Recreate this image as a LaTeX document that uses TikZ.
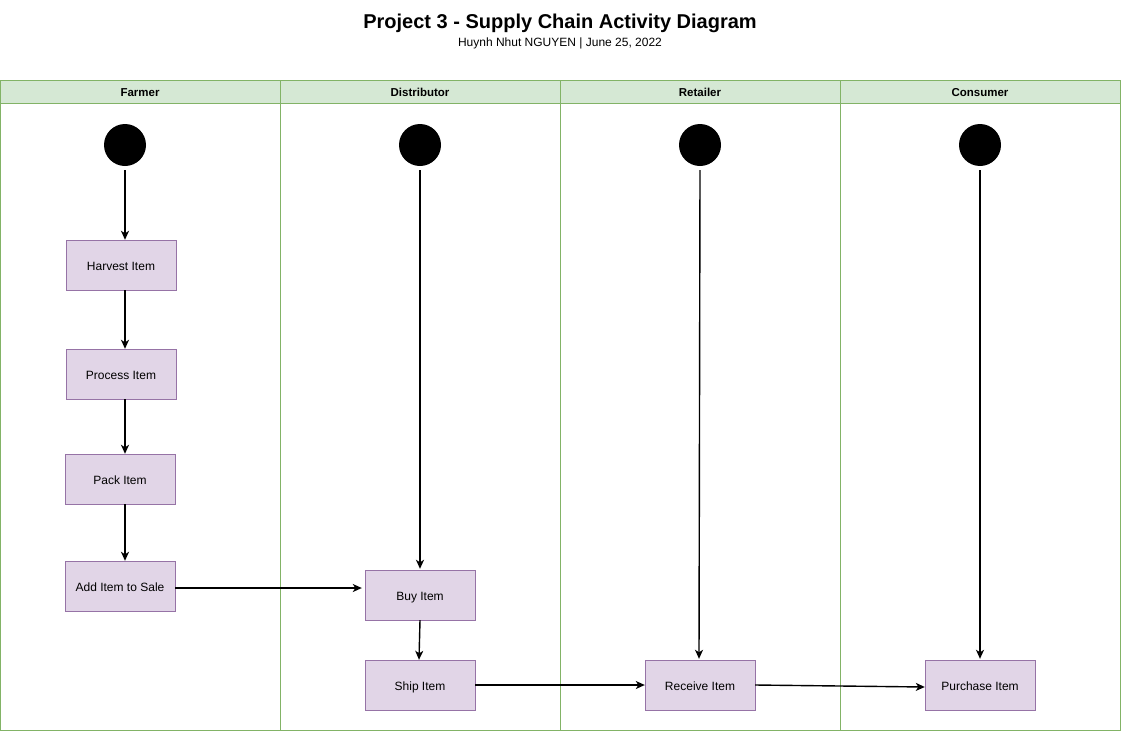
\documentclass[tikz,border=0pt]{standalone}
\usepackage{fontspec}
\setmainfont{Liberation Sans}
\usetikzlibrary{arrows.meta}
\definecolor{boxfill}{HTML}{E1D5E7}
\definecolor{boxline}{HTML}{9673A6}
\definecolor{headfill}{HTML}{D5E8D4}
\definecolor{headline}{HTML}{82B366}
\begin{document}
\begin{tikzpicture}[x=1pt,y=-1pt,
  act/.style={draw=boxline,fill=boxfill,minimum width=110pt,minimum height=50pt,inner sep=0pt,font=\fontsize{12}{14}\selectfont,text height=11.5pt,text depth=0pt},
  startdot/.style={circle,fill=black,minimum size=42pt,inner sep=0pt},
  flow/.style={-{Stealth[length=9pt,width=8pt,inset=2.5pt]},line width=1.4pt},
  lane/.style={draw=headline,line width=0.8pt},
  head/.style={font=\bfseries\fontsize{11.5}{13}\selectfont,text height=10pt,text depth=0pt}]
\useasboundingbox (0,0) rectangle (1121,731);
% title
\node[font=\bfseries\fontsize{20}{24}\selectfont] (title) at (560,23.5) {Project 3 - Supply Chain Activity Diagram};
\node[font=\fontsize{12}{14}\selectfont] (subtitle) at (560,43) {Huynh Nhut NGUYEN | June 25, 2022};
% pool
\fill[headfill] (0.5,80.5) rectangle (1120,103);
\draw[lane] (0.5,80.5) rectangle (1120,730);
\draw[lane] (0.5,103) -- (1120,103);
\foreach \x in {280,560,840} \draw[lane] (\x,80.5) -- (\x,730);
\node[head] (h1) at (140,91.5) {Farmer};
\node[head] (h2) at (420,91.5) {Distributor};
\node[head] (h3) at (700,91.5) {Retailer};
\node[head] (h4) at (980,91.5) {Consumer};
% start nodes
\node[startdot] (s1) at (125,145) {};
\node[startdot] (s2) at (420,145) {};
\node[startdot] (s3) at (700,145) {};
\node[startdot] (s4) at (980,145) {};
% activities
\node[act] (harvest) at (121,265) {Harvest Item};
\node[act] (process) at (121,374) {Process Item};
\node[act] (pack) at (120,479) {Pack Item};
\node[act] (sale) at (120,586) {Add Item to Sale};
\node[act] (buy) at (420,595) {Buy Item};
\node[act] (ship) at (420,685) {Ship Item};
\node[act] (receive) at (700,685) {Receive Item};
\node[act] (purchase) at (980,685) {Purchase Item};
% flows
\draw[flow] ([yshift=-4pt]s1.south) -- (harvest.north -| s1.south);
\draw[flow] (harvest.south -| s1.south) -- (process.north -| s1.south);
\draw[flow] (process.south -| s1.south) -- (pack.north -| s1.south);
\draw[flow] (pack.south -| s1.south) -- (sale.north -| s1.south);
\draw[flow] ([yshift=-2pt]sale.east) -- ([xshift=-3pt,yshift=7pt]buy.west);
\draw[flow] ([yshift=-4pt]s2.south) -- ([yshift=1pt]buy.north);
\draw[flow] (buy.south) -- ([xshift=-1pt]ship.north);
\draw[flow] (ship.east) -- (receive.west);
\draw[flow] ([yshift=-4pt]s3.south) -- ([xshift=-1pt,yshift=1pt]receive.north);
\draw[flow] (receive.east) -- ([yshift=-2pt]purchase.west);
\draw[flow] ([yshift=-4pt]s4.south) -- ([yshift=1pt]purchase.north);
\end{tikzpicture}
\end{document}
